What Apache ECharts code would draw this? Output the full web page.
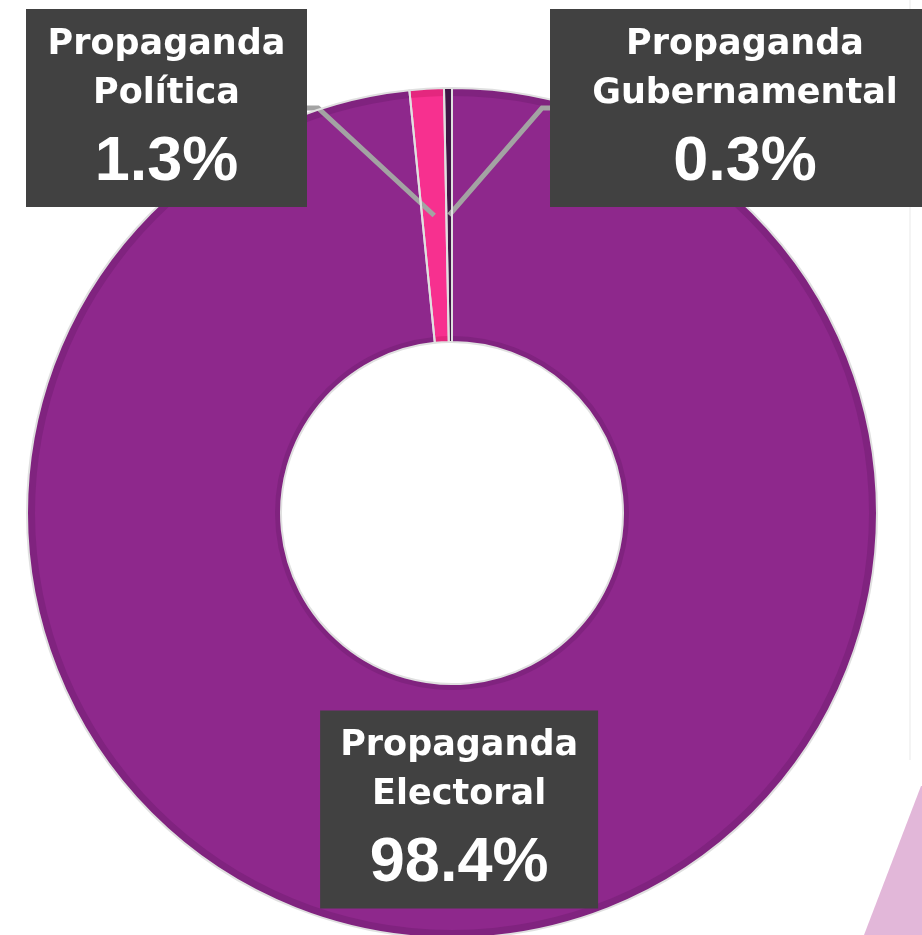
<!DOCTYPE html>
<html>
<head>
<meta charset="utf-8">
<script src="https://cdn.jsdelivr.net/npm/echarts@6/dist/echarts.min.js"></script>
<style>
html,body{margin:0;padding:0;background:#fff;}
#chart{width:922px;height:935px;}
</style>
</head>
<body>
<div id="chart"></div>
<script>
// Data
const categories = ['Propaganda\nElectoral', 'Propaganda\nPolítica', 'Propaganda\nGubernamental'];
const values = [98.4, 1.3, 0.3];
const percentLabels = ['98.4%', '1.3%', '0.3%'];
const colors = ['#8E288C', '#F7308F', '#3E1545'];
const rimColors = ['#80237F', '#E4277E', '#3E1545'];

const CX = 452, CY = 513, R0 = 171, R1 = 425;
const total = values.reduce((a, b) => a + b, 0);

function midPoint(idx, r) {
  let cum = 0;
  for (let i = 0; i < idx; i++) cum += values[i];
  const frac = (cum + values[idx] / 2) / total;
  const a = Math.PI / 2 - frac * Math.PI * 2;
  return [CX + r * Math.cos(a), CY - r * Math.sin(a)];
}

const rich = {
  n: { fontFamily: 'DejaVu Sans', fontWeight: 'bold', fontSize: 35, lineHeight: 49, color: '#ffffff', align: 'center' },
  p: { fontFamily: 'Liberation Sans', fontWeight: 'bold', fontSize: 63, lineHeight: 89, color: '#ffffff', align: 'center' }
};

const boxWidths = [278, 281, 390];

const rimData = categories.map((name, i) => ({ name: name, value: values[i], itemStyle: { color: rimColors[i] } }));
const sliceData = categories.map((name, i) => ({ name: name, value: values[i], itemStyle: { color: colors[i] } }));

const labelData = categories.map((name, i) => ({
  name: name,
  value: values[i],
  label: {
    show: true,
    position: i === 0 ? 'inside' : 'outside',
    width: boxWidths[i],
    padding: [11, 0, 0, 0],
    backgroundColor: '#414141',
    align: 'center',
    formatter: function () {
      return name.split('\n').map(s => '{n|' + s + '}').join('\n') + '\n{p|' + percentLabels[i] + '}';
    },
    rich: rich
  },
  labelLine: { show: i !== 0, length: 10, length2: 10, lineStyle: { color: '#A3A3A3', width: 5 } }
}));

const common = {
  type: 'pie',
  center: [CX, CY],
  startAngle: 90,
  clockwise: true,
  silent: true,
  emphasis: { disabled: true }
};

const chart = echarts.init(document.getElementById('chart'), null, { renderer: 'canvas' });
chart.setOption({
  backgroundColor: '#ffffff',
  animation: false,
  graphic: [
    { type: 'polygon', z: -10, shape: { points: [[924, 786], [921, 786], [864, 935], [924, 935]] }, style: { fill: '#E2B7D9' } },
    { type: 'line', z: -10, shape: { x1: 910, y1: 0, x2: 910, y2: 760 }, style: { stroke: '#f0f0f0', lineWidth: 1.5 } }
  ],
  series: [
    Object.assign({}, common, {
      z: 2, radius: [R0, R1],
      label: { show: false }, labelLine: { show: false },
      itemStyle: { borderWidth: 0 },
      data: rimData
    }),
    Object.assign({}, common, {
      z: 3, radius: [R0 + 6, R1 - 8],
      label: { show: false }, labelLine: { show: false },
      itemStyle: { borderWidth: 0 },
      data: sliceData
    }),
    Object.assign({}, common, {
      z: 5, radius: [R0, R1],
      avoidLabelOverlap: false,
      itemStyle: { color: 'rgba(0,0,0,0)', borderColor: '#e0e0e0', borderWidth: 2 },
      data: labelData,
      labelLayout: function (p) {
        const rm = (R0 + R1) / 2;
        if (p.dataIndex === 1) {
          const s = midPoint(1, rm);
          return {
            x: 307, y: 9, align: 'right', verticalAlign: 'top',
            labelLinePoints: [s, [318, 108], [307, 108]]
          };
        }
        if (p.dataIndex === 2) {
          const s = midPoint(2, rm);
          return {
            x: 550, y: 9, align: 'left', verticalAlign: 'top',
            labelLinePoints: [s, [542, 108], [550, 108]]
          };
        }
        return { dx: -8, dy: -4 };
      }
    })
  ]
});
</script>
</body>
</html>
